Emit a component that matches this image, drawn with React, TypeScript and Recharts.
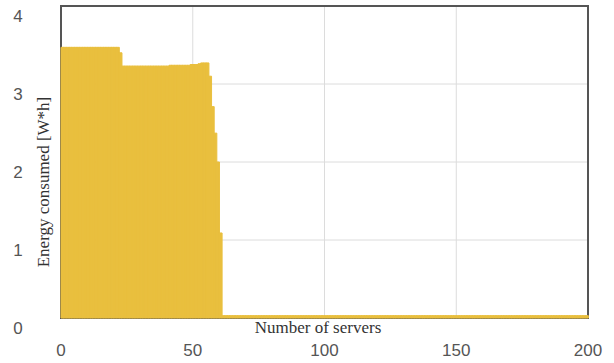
import React from 'react';
import { BarChart, Bar, XAxis, YAxis, CartesianGrid, ReferenceArea } from 'recharts';

// Energy per server (W*h), servers 1..61, the rest is a thin near-zero line
const firstLevel = [3.47, 3.47, 3.47, 3.47, 3.47, 3.47, 3.47, 3.47, 3.47, 3.47, 3.47,
  3.47, 3.47, 3.47, 3.47, 3.47, 3.47, 3.47, 3.47, 3.47, 3.47, 3.47];
const secondLevel = [3.4, 3.23, 3.23, 3.23, 3.23, 3.23, 3.23, 3.23, 3.23, 3.23, 3.23,
  3.23, 3.23, 3.23, 3.23, 3.23, 3.23, 3.23, 3.23, 3.24, 3.24, 3.24, 3.24, 3.24, 3.24,
  3.24, 3.24, 3.25, 3.25, 3.25, 3.26, 3.27, 3.27, 3.27];
const dropOff = [3.1, 2.71, 2.37, 2.0, 1.09];
const tailValue = 0.03;
const serverCount = 200;

const xTicks = [0, 50, 100, 150, 200];
const yTicks = [0, 1, 2, 3, 4];

const energy = [...firstLevel, ...secondLevel, ...dropOff];
const data = Array.from({ length: serverCount }, (_, i) => ({
  server: i + 0.5,
  energy: i < energy.length ? energy[i] : tailValue,
}));

const tickStyle = { fontFamily: 'Liberation Sans, Arial, sans-serif', fontSize: 17, fill: '#555' };

const YTick = (props: any) => (
  <text x={18} y={props.y + 16} textAnchor="middle" style={tickStyle}>
    {props.payload.value}
  </text>
);

const XTick = (props: any) => (
  <text x={props.x} y={356} textAnchor="middle" style={tickStyle}>
    {props.payload.value}
  </text>
);

const titleStyle: React.CSSProperties = {
  position: 'absolute',
  fontFamily: 'Liberation Serif, Times New Roman, serif',
  fontSize: 17,
  lineHeight: '18px',
  color: '#333',
  whiteSpace: 'nowrap',
};

export default function App() {
  return (
    <div style={{ position: 'absolute', left: 0, top: 0, width: 614, height: 363, background: '#fff' }}>
      <BarChart
        width={614}
        height={363}
        data={data}
        margin={{ top: 6, right: 26, bottom: 0, left: 0 }}
        barCategoryGap={0}
        barGap={0}
      >
        <CartesianGrid stroke="#dcdcdc" />
        <XAxis
          dataKey="server"
          type="number"
          domain={[0, 200]}
          ticks={xTicks}
          height={45}
          axisLine={false}
          tickLine={false}
          tick={XTick}
          interval={0}
        />
        <YAxis
          type="number"
          domain={[0, 4]}
          ticks={yTicks}
          width={61}
          axisLine={false}
          tickLine={false}
          tick={YTick}
          interval={0}
        />
        <Bar dataKey="energy" fill="#E9BF3E" stroke="#E9BF3E" strokeWidth={1} isAnimationActive={false} />
        <ReferenceArea x1={0} x2={200} y1={0} y2={4} fill="none" stroke="#555" strokeWidth={2} />
      </BarChart>
      <div style={{ ...titleStyle, left: 318, top: 328, transform: 'translate(-50%, -50%)' }}>
        Number of servers
      </div>
      <div
        style={{
          ...titleStyle,
          left: 44,
          top: 182,
          transform: 'translate(-50%, -50%) rotate(-90deg)',
        }}
      >
        Energy consumed [W*h]
      </div>
    </div>
  );
}
